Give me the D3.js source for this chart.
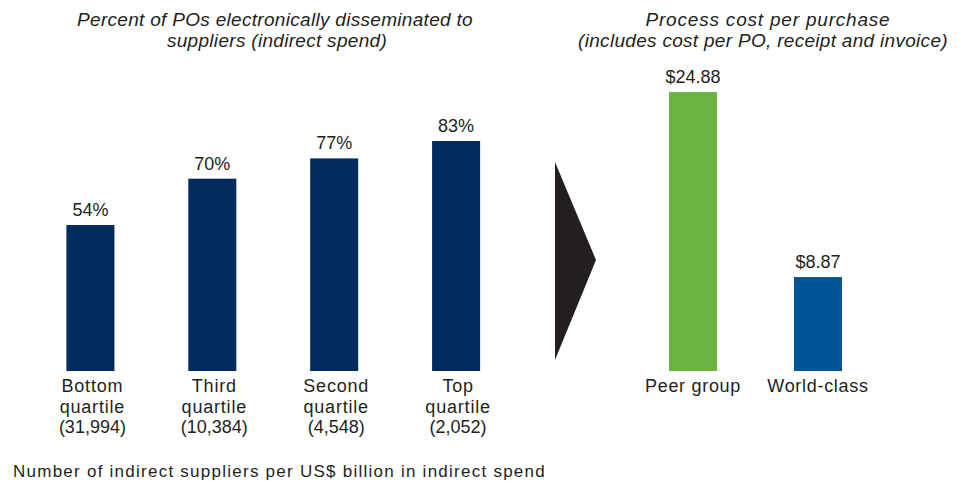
<!DOCTYPE html>
<html>
<head>
<meta charset="utf-8">
<script src="https://cdn.jsdelivr.net/npm/d3@7"></script>
<style>
  html, body { margin: 0; padding: 0; background: #fff; }
  svg { display: block; font-family: "Liberation Sans", Arial, sans-serif; }
  text { fill: #231f20; }
</style>
</head>
<body>
<svg id="chart" width="959" height="483"></svg>
<script>
// left panel: share of POs sent electronically, by supplier-count quartile
const quartiles = ["Bottom", "Third", "Second", "Top"];
const supplierCounts = ["(31,994)", "(10,384)", "(4,548)", "(2,052)"];
const poShare = [54, 70, 77, 83];

// right panel: process cost per purchase
const costGroups = ["Peer group", "World-class"];
const costValues = [24.88, 8.87];
const costColors = ["#6cb33f", "#005596"];

const svg = d3.select("#chart");
const baseY = 371;

// --- left panel ---
const xLeft = d3.scaleBand()
    .domain(quartiles)
    .range([66.4, 480.1])
    .paddingInner(0.606)
    .paddingOuter(0);

const yLeft = d3.scaleLinear()
    .domain([3.6, 100])
    .range([baseY, 91.8]);

const left = svg.append("g");

left.selectAll("rect")
    .data(poShare)
    .join("rect")
    .attr("x", (d, i) => xLeft(quartiles[i]))
    .attr("y", d => yLeft(d))
    .attr("width", xLeft.bandwidth())
    .attr("height", d => baseY - yLeft(d))
    .attr("fill", "#002b5c");

left.selectAll("text.val")
    .data(poShare)
    .join("text")
    .attr("class", "val")
    .attr("x", (d, i) => xLeft(quartiles[i]) + xLeft.bandwidth() / 2)
    .attr("y", d => yLeft(d) - 9)
    .attr("text-anchor", "middle")
    .style("font-size", "18px")
    .text(d => d + "%");

const catLabels = left.selectAll("text.cat")
    .data(quartiles)
    .join("text")
    .attr("class", "cat")
    .attr("text-anchor", "middle")
    .style("font-size", "18px");

catLabels.each(function(d, i) {
    const t = d3.select(this);
    const cx = xLeft(d) + xLeft.bandwidth() / 2 + 2;
    [d, "quartile", supplierCounts[i]].forEach((line, j) => {
        t.append("tspan")
            .attr("x", cx)
            .attr("y", 392 + j * 20.5)
            .style("letter-spacing", j < 2 ? "0.8px" : "0px")
            .text(line);
    });
});

svg.append("text")
    .attr("x", 13)
    .attr("y", 477)
    .style("font-size", "17px")
    .style("letter-spacing", "1.25px")
    .text("Number of indirect suppliers per US$ billion in indirect spend");

const leftTitle = svg.append("text")
    .attr("text-anchor", "middle")
    .style("font-size", "19px")
    .style("letter-spacing", "0.3px")
    .style("font-style", "italic");
leftTitle.append("tspan").attr("x", 275).attr("y", 26)
    .text("Percent of POs electronically disseminated to");
leftTitle.append("tspan").attr("x", 277).attr("y", 47)
    .text("suppliers (indirect spend)");

// arrow between the panels
svg.append("path")
    .attr("d", "M555,162 L596,260 L555,360 Z")
    .attr("fill", "#231f20");

// --- right panel ---
const xRight = d3.scaleBand()
    .domain(costGroups)
    .range([669, 842])
    .paddingInner(0.616)
    .paddingOuter(0);

const yRight = d3.scaleLinear()
    .domain([0.74, 25])
    .range([baseY, 90.7]);

const right = svg.append("g");

right.selectAll("rect")
    .data(costValues)
    .join("rect")
    .attr("x", (d, i) => xRight(costGroups[i]))
    .attr("y", d => yRight(d))
    .attr("width", xRight.bandwidth())
    .attr("height", d => baseY - yRight(d))
    .attr("fill", (d, i) => costColors[i]);

right.selectAll("text.val")
    .data(costValues)
    .join("text")
    .attr("class", "val")
    .attr("x", (d, i) => xRight(costGroups[i]) + xRight.bandwidth() / 2)
    .attr("y", d => yRight(d) - 9)
    .attr("text-anchor", "middle")
    .style("font-size", "18px")
    .text(d => "$" + d.toFixed(2));

right.selectAll("text.cat")
    .data(costGroups)
    .join("text")
    .attr("class", "cat")
    .attr("x", d => xRight(d) + xRight.bandwidth() / 2)
    .attr("y", 392)
    .attr("text-anchor", "middle")
    .style("font-size", "18px")
    .style("letter-spacing", "0.7px")
    .text(d => d);

const rightTitle = svg.append("text")
    .attr("text-anchor", "middle")
    .style("font-size", "19px")
    .style("font-style", "italic");
rightTitle.append("tspan").attr("x", 768).attr("y", 26)
    .style("letter-spacing", "0.8px")
    .text("Process cost per purchase");
rightTitle.append("tspan").attr("x", 763).attr("y", 47)
    .style("letter-spacing", "0.3px")
    .text("(includes cost per PO, receipt and invoice)");
</script>
</body>
</html>
